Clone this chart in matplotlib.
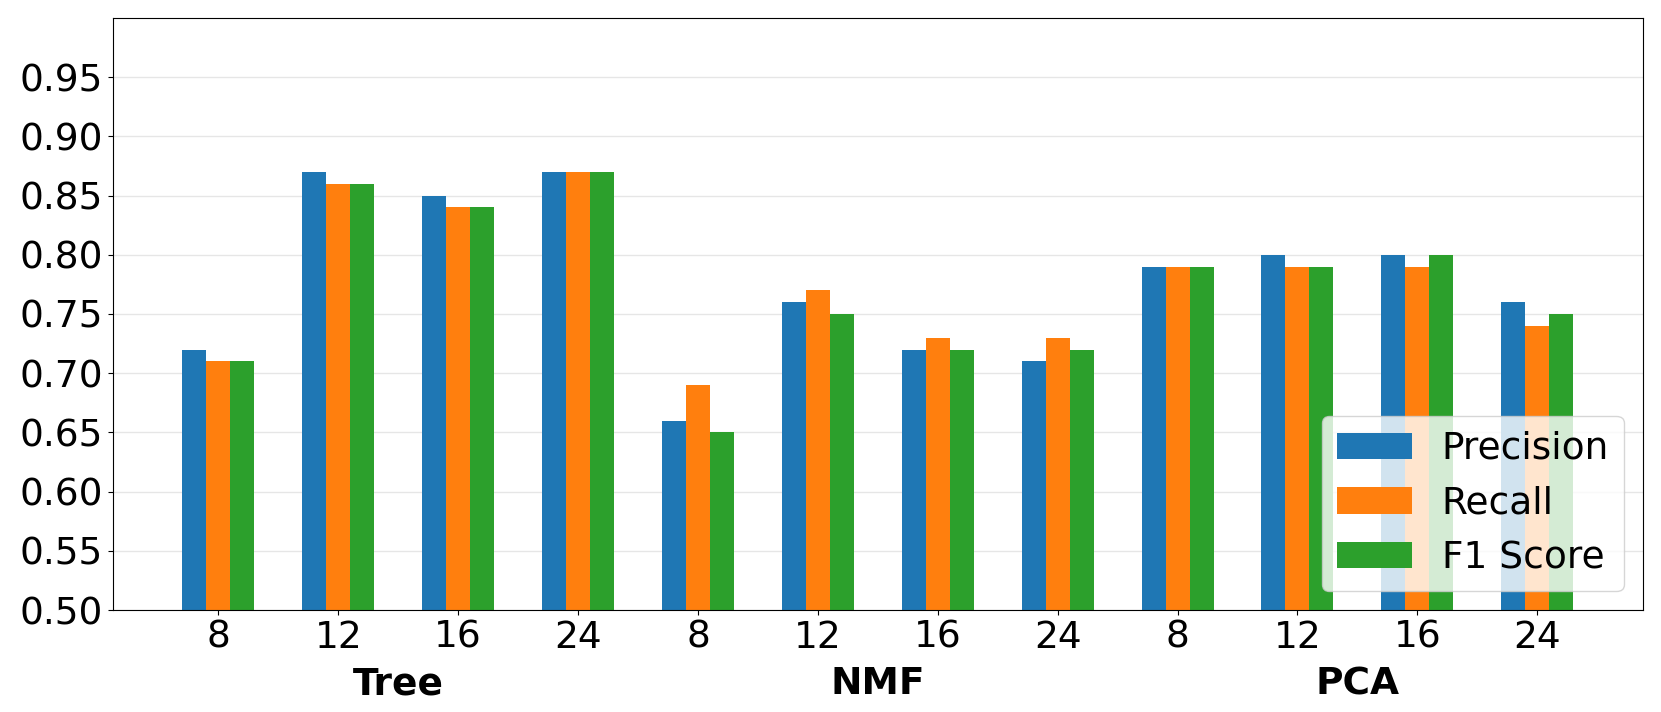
import numpy as np
import matplotlib
matplotlib.use('Agg')
import matplotlib.pyplot as plt
import matplotlib.transforms as mtransforms

# Data
methods = ['Tree', 'NMF', 'PCA']
dims = ['8', '12', '16', '24']
precision = [0.72, 0.87, 0.85, 0.87,
             0.66, 0.76, 0.72, 0.71,
             0.79, 0.80, 0.80, 0.76]
recall = [0.71, 0.86, 0.84, 0.87,
          0.69, 0.77, 0.73, 0.73,
          0.79, 0.79, 0.79, 0.74]
f1_score = [0.71, 0.86, 0.84, 0.87,
            0.65, 0.75, 0.72, 0.72,
            0.79, 0.79, 0.80, 0.75]

plt.rcParams['font.size'] = 27

fig = plt.figure(figsize=(16.61, 7.12), dpi=100)
ax = fig.add_subplot(1, 1, 1)
fig.subplots_adjust(left=0.068, right=0.989, top=0.975, bottom=0.143)

x = np.arange(len(precision))
w = 0.2
ax.bar(x - w, precision, w, label='Precision', color='tab:blue')
ax.bar(x, recall, w, label='Recall', color='tab:orange')
ax.bar(x + w, f1_score, w, label='F1 Score', color='tab:green')

ax.set_ylim(0.5, 1.0)
ax.set_yticks(np.arange(0.50, 0.951, 0.05))
ax.set_yticklabels([f'{v:.2f}' for v in np.arange(0.50, 0.951, 0.05)])
ax.set_xticks(x)
ax.set_xticklabels(dims * len(methods))
ax.yaxis.grid(True, color='#e6e6e6', linewidth=1)
ax.set_axisbelow(True)

# group labels under the tick labels
trans = mtransforms.blended_transform_factory(ax.transData, ax.transAxes)
for i, m in enumerate(methods):
    ax.text(i * 4 + 1.5, -0.125, m, transform=trans, ha='center', va='center',
            fontweight='bold')

ax.legend(loc='lower right')

fig.savefig('out.png', dpi=100)
